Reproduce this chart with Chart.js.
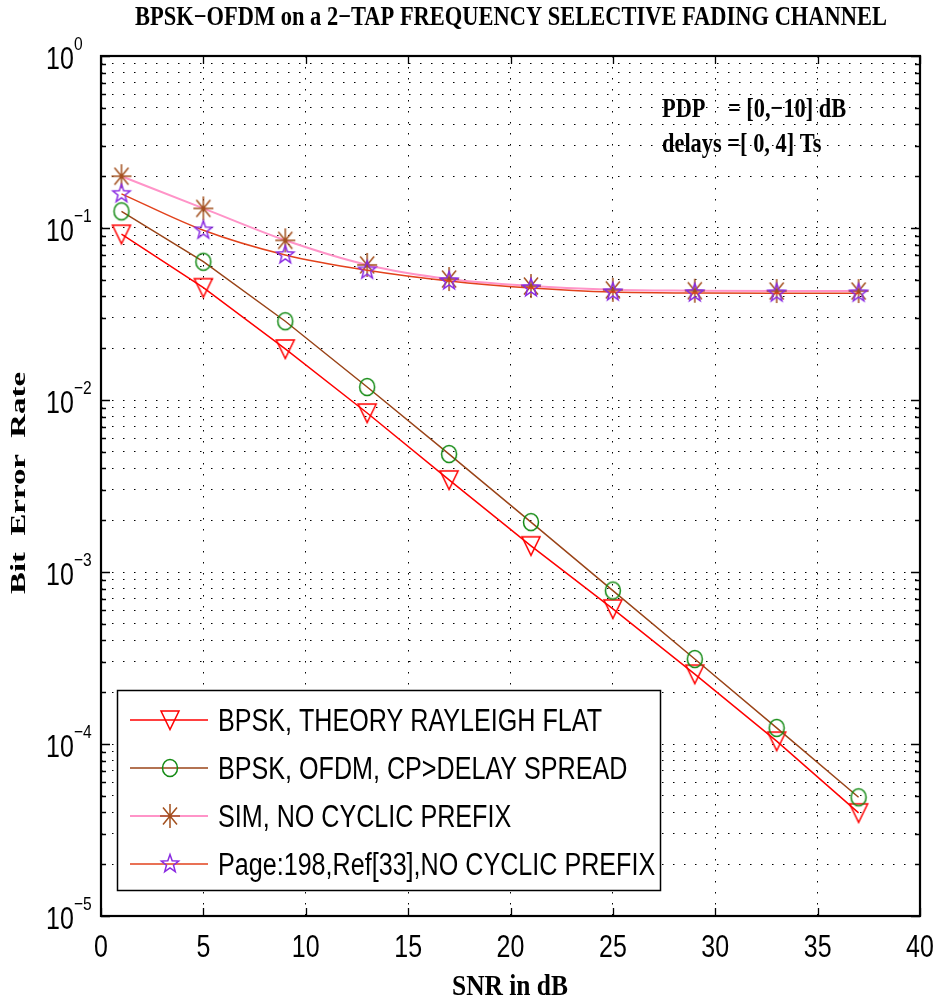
<!DOCTYPE html>
<html>
<head>
<meta charset="utf-8">
<script src="https://cdn.jsdelivr.net/npm/chart.js@4.4.0/dist/chart.umd.min.js"></script>
<style>
  html, body { margin: 0; padding: 0; background: #fff; }
  canvas { display: block; }
</style>
</head>
<body>
<canvas id="myChart" width="938" height="1000"></canvas>
<script>
// SNR values (dB) where the markers sit
var snr = [1, 5, 9, 13, 17, 21, 25, 29, 33, 37];

// BER
var berTheory = [0.092, 0.045, 0.0198, 0.0084, 0.00343, 0.00142, 0.00061, 0.000255, 0.000104, 0.0000398];
var berOfdmCp = [0.125, 0.0637, 0.0287, 0.0119, 0.00485, 0.00195, 0.00078, 0.000312, 0.000124, 0.000049];
var berSimNoCp = [0.200, 0.130, 0.0848, 0.061, 0.0505, 0.046, 0.0437, 0.0432, 0.043, 0.043];
var berRefNoCp = [0.158, 0.097, 0.0697, 0.0568, 0.0492, 0.0448, 0.0424, 0.0419, 0.0418, 0.0418];

var seriesNames = [
    "BPSK, THEORY RAYLEIGH FLAT",
    "BPSK, OFDM, CP>DELAY SPREAD",
    "SIM, NO CYCLIC PREFIX",
    "Page:198,Ref[33],NO CYCLIC PREFIX"
];

var xTicks = [0, 5, 10, 15, 20, 25, 30, 35, 40];
var yDecades = [0, -1, -2, -3, -4, -5];

var titleText = "BPSK\u2212OFDM on a 2\u2212TAP FREQUENCY SELECTIVE FADING CHANNEL";
var xTitle = "SNR in dB";
var yTitle = "Bit  Error  Rate";
var noteLine1a = "PDP";
var noteLine1b = "= [0,\u221210] dB";
var noteLine2 = "delays =[ 0, 4] Ts";

var lineColors = ["#ff0000", "#9a4418", "#ff94c8", "#e2421c"];
var markColors = ["#ff0000", "#138a13", "#a3501e", "#8a2be2"];

// marker images (MATLAB style: v, o, *, pentagram)
function makeMarker(kind, color) {
    var c = document.createElement("canvas");
    var w = 24, h = 26;
    c.width = w; c.height = h;
    var g = c.getContext("2d");
    var cx = w / 2, cy = h / 2;
    g.strokeStyle = color;
    g.lineWidth = 1.5;
    g.beginPath();
    if (kind == "tri") {
        g.moveTo(cx - 9, cy - 9);
        g.lineTo(cx + 9, cy - 9);
        g.lineTo(cx, cy + 9.5);
        g.closePath();
    } else if (kind == "circ") {
        g.ellipse(cx, cy, 7.5, 8.5, 0, 0, Math.PI * 2);
    } else if (kind == "ast") {
        g.moveTo(cx - 10, cy); g.lineTo(cx + 10, cy);
        g.moveTo(cx, cy - 12); g.lineTo(cx, cy + 12);
        g.moveTo(cx - 7, cy - 8.5); g.lineTo(cx + 7, cy + 8.5);
        g.moveTo(cx + 7, cy - 8.5); g.lineTo(cx - 7, cy + 8.5);
    } else {
        for (var i = 0; i < 10; i++) {
            var r = (i % 2 == 0) ? 9 : 3.7;
            var a = -Math.PI / 2 + i * Math.PI / 5;
            var px = cx + r * Math.cos(a), py = cy + r * 1.05 * Math.sin(a);
            if (i == 0) g.moveTo(px, py); else g.lineTo(px, py);
        }
        g.closePath();
    }
    g.stroke();
    return c;
}

var markers = [
    makeMarker("tri", markColors[0]),
    makeMarker("circ", markColors[1]),
    makeMarker("ast", markColors[2]),
    makeMarker("star", markColors[3])
];

function toPoints(ys) {
    var pts = [];
    for (var i = 0; i < snr.length; i++) pts.push({ x: snr[i], y: ys[i] });
    return pts;
}

var allSeries = [berTheory, berOfdmCp, berSimNoCp, berRefNoCp];
var datasets = [];
for (var i = 0; i < allSeries.length; i++) {
    datasets.push({
        label: seriesNames[i],
        data: toPoints(allSeries[i]),
        borderColor: lineColors[i],
        borderWidth: i == 2 ? 2 : 1.5,
        pointStyle: markers[i],
        pointRadius: 10,
        pointHoverRadius: 10,
        cubicInterpolationMode: i >= 2 ? "monotone" : "default",
        fill: false,
        order: 4 - i
    });
}

// all log ticks 1..9 per decade, used for grid lines
var yGridValues = [];
for (var d = -5; d < 0; d++) {
    for (var m = 1; m < 10; m++) yGridValues.push(m * Math.pow(10, d));
}
yGridValues.push(1);

// draw text squeezed horizontally (the picture is stretched vertically)
function sText(ctx, s, x, y, font, sx, align) {
    ctx.save();
    ctx.font = font;
    ctx.textAlign = align || "left";
    ctx.textBaseline = "alphabetic";
    ctx.translate(x, y);
    ctx.scale(sx, 1);
    ctx.fillText(s, 0, 0);
    ctx.restore();
}
function fitScale(ctx, s, font, width) {
    ctx.save();
    ctx.font = font;
    var w = ctx.measureText(s).width;
    ctx.restore();
    return width / w;
}

var SANS = "'Liberation Sans', Arial, sans-serif";
var SERIF = "'Liberation Serif', 'Times New Roman', serif";

var decorations = {
    id: "decorations",
    afterDraw: function (chart) {
        var ctx = chart.ctx;
        var a = chart.chartArea;
        var xs = chart.scales.x, ys = chart.scales.y;
        ctx.save();
        ctx.fillStyle = "#000";
        ctx.strokeStyle = "#000";

        // inward ticks
        ctx.lineWidth = 1.3;
        ctx.beginPath();
        xTicks.forEach(function (v) {
            var px = Math.round(xs.getPixelForValue(v)) + 0.5;
            ctx.moveTo(px, a.bottom); ctx.lineTo(px, a.bottom - 8);
            ctx.moveTo(px, a.top); ctx.lineTo(px, a.top + 8);
        });
        yGridValues.forEach(function (v) {
            var py = Math.round(ys.getPixelForValue(v)) + 0.5;
            var major = Math.abs(Math.log10(v) - Math.round(Math.log10(v))) < 1e-9;
            var len = major ? 9 : 5;
            ctx.moveTo(a.left, py); ctx.lineTo(a.left + len, py);
            ctx.moveTo(a.right, py); ctx.lineTo(a.right - len, py);
        });
        ctx.stroke();

        // box
        ctx.lineWidth = 2.2;
        ctx.strokeRect(a.left, a.top, a.right - a.left, a.bottom - a.top);

        // x tick labels
        xTicks.forEach(function (v) {
            sText(ctx, String(v), xs.getPixelForValue(v), 957, "32px " + SANS, 0.78, "center");
        });
        // y tick labels 10^n
        yDecades.forEach(function (e) {
            var py = ys.getPixelForValue(Math.pow(10, e));
            sText(ctx, "10", 46, py + 13, "32px " + SANS, 0.78, "left");
            var ex = e == 0 ? "0" : "\u2212" + String(-e);
            sText(ctx, ex, 74, py - 6, "19px " + SANS, 0.82, "left");
        });

        // titles
        var tf = "bold 27px " + SERIF;
        sText(ctx, titleText, 511, 25, tf, fitScale(ctx, titleText, tf, 752), "center");
        var xf = "bold 30px " + SERIF;
        sText(ctx, xTitle, 510, 995, xf, fitScale(ctx, xTitle, xf, 116), "center");
        ctx.save();
        ctx.translate(25, 483);
        ctx.rotate(-Math.PI / 2);
        var yf = "bold 22px " + SERIF;
        sText(ctx, yTitle, 0, 0, yf, fitScale(ctx, yTitle, yf, 222), "center");
        ctx.restore();

        // note text
        var nf = "bold 28px " + SERIF;
        sText(ctx, noteLine1a, 662, 117, nf, 0.8, "left");
        sText(ctx, noteLine1b, 728, 117, nf, 0.8, "left");
        sText(ctx, noteLine2, 662, 152, nf, 0.8, "left");

        // legend
        var lx = 117, ly = 690, lw = 543, lh = 200;
        ctx.fillStyle = "#fff";
        ctx.fillRect(lx, ly, lw, lh);
        ctx.lineWidth = 1.5;
        ctx.strokeStyle = "#000";
        ctx.strokeRect(lx + 0.5, ly + 0.5, lw, lh);
        var lf = "31px " + SANS;
        var lsx = fitScale(ctx, seriesNames[0], lf, 384);
        for (var i = 0; i < seriesNames.length; i++) {
            var cy = 720 + i * 48;
            ctx.strokeStyle = lineColors[i];
            ctx.lineWidth = i == 2 ? 2 : 1.5;
            ctx.beginPath();
            ctx.moveTo(130, cy); ctx.lineTo(208, cy);
            ctx.stroke();
            var mk = markers[i];
            ctx.drawImage(mk, 170 - mk.width / 2, cy - mk.height / 2);
            ctx.fillStyle = "#000";
            sText(ctx, seriesNames[i], 218, cy + 11, lf, lsx, "left");
        }
        ctx.restore();
    }
};

new Chart("myChart", {
    type: "line",
    data: { datasets: datasets },
    options: {
        responsive: false,
        animation: false,
        devicePixelRatio: 1,
        layout: { padding: { top: 56, right: 18, left: 0, bottom: 0 } },
        plugins: {
            legend: { display: false },
            title: { display: false },
            tooltip: { enabled: false }
        },
        scales: {
            x: {
                type: "linear",
                min: 0,
                max: 40,
                ticks: { display: false, stepSize: 5 },
                grid: { color: "#000", lineWidth: 1, drawTicks: false },
                border: { display: false, dash: [1.5, 9.5] },
                afterFit: function (s) { s.height = 84; }
            },
            y: {
                type: "logarithmic",
                min: 0.00001,
                max: 1,
                ticks: { display: false },
                afterBuildTicks: function (s) {
                    s.ticks = yGridValues.map(function (v) { return { value: v }; });
                },
                grid: { color: "#000", lineWidth: 1, drawTicks: false },
                border: { display: false, dash: [1.5, 9.5] },
                afterFit: function (s) { s.width = 101; }
            }
        }
    },
    plugins: [decorations]
});
</script>
</body>
</html>
